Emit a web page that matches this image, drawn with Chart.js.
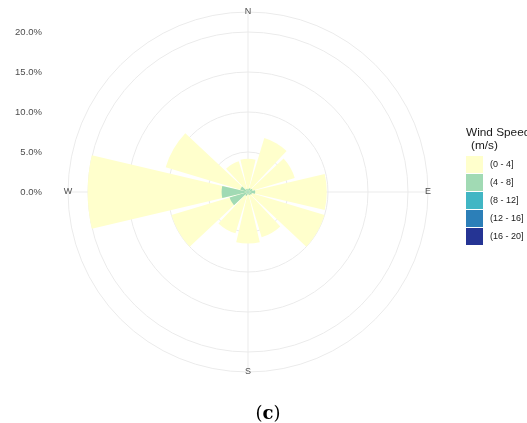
<!DOCTYPE html>
<html>
<head>
<meta charset="utf-8">
<script src="https://cdn.jsdelivr.net/npm/chart.js@4.4.1/dist/chart.umd.min.js"></script>
<style>
html,body{margin:0;padding:0;background:#fff;width:527px;height:423px;overflow:hidden;}
#wrap{position:relative;width:527px;height:423px;overflow:hidden;}
#c{position:absolute;left:0;top:0;}
.lt{position:absolute;font-family:"Liberation Sans",Arial,sans-serif;font-size:11.8px;line-height:13px;color:#1a1a1a;white-space:nowrap;}
.key{position:absolute;width:17px;height:17px;}
.kl{position:absolute;font-family:"Liberation Sans",Arial,sans-serif;font-size:9px;line-height:17px;color:#1a1a1a;white-space:nowrap;}
#caption{position:absolute;left:268px;top:402px;transform:translateX(-50%);font-family:"DejaVu Serif",serif;font-size:18px;line-height:22px;color:#000;white-space:nowrap;}
</style>
</head>
<body>
<div id="wrap">
<canvas id="c" width="527" height="423"></canvas>
<div id="legend"></div>
<div id="caption">(<b>c</b>)</div>
</div>
<script>
// Direction sectors (degrees clockwise from North)
const directions = [0, 30, 60, 90, 120, 150, 180, 210, 240, 270, 300, 330];
// Frequency (%) per wind-speed bin and direction
const speed0to4   = [3.75, 6.55, 5.5, 8.95, 9.5, 5.5, 6.15, 4.9, 7.6, 16.75, 9.75, 3.6];
const speed4to8   = [0.4, 0.5, 0.6, 0.8, 0.5, 0.4, 0.3, 0.5, 2.4, 3.2, 1.0, 0.4];
const speed8to12  = [0, 0, 0, 0.1, 0, 0, 0, 0, 0, 0.1, 0, 0];
const speed12to16 = [0, 0, 0, 0, 0, 0, 0, 0, 0, 0, 0, 0];
const speed16to20 = [0, 0, 0, 0, 0, 0, 0, 0, 0, 0, 0, 0];
const speedBins = ['(0 - 4]', '(4 - 8]', '(8 - 12]', '(12 - 16]', '(16 - 20]'];
const binColors = ['#FFFFCC', '#A1DAB4', '#41B6C4', '#2C7FB8', '#253494'];
const tickValues = [0, 5, 10, 15, 20];
const ringValues = [0, 5, 10, 15, 20, 22.5];
const rMax = 22.5;
const cardinalLabels = ['N', 'E', 'S', 'W'];
const cardinalAngles = [0, 90, 180, 270];
const legendTitle = ['Wind Speed', '(m/s)'];

const bins = [speed0to4, speed4to8, speed8to12, speed12to16, speed16to20];
const sectorAngle = 360 / directions.length;
const petalAngle = sectorAngle * 0.88;
const gapAngle = sectorAngle - petalAngle;

// cumulative stacks: outer = all bins, inner = higher speeds
const datasets = [];
for (let k = bins.length - 1; k >= 0; k--) {
  const cum = directions.map((d, i) => {
    let s = 0;
    for (let j = k; j < bins.length; j++) s += bins[j][i];
    return s;
  });
  datasets.push({
    label: speedBins[k],
    data: cum.flatMap(v => [v, 0]),
    backgroundColor: binColors[k],
    borderWidth: 0,
    angle: (ctx) => (ctx.dataIndex % 2 === 0 ? petalAngle : gapAngle)
  });
}
const labels = directions.flatMap(d => [String(d), '']);

const decor = {
  id: 'decor',
  beforeDatasetsDraw(chart) {
    const s = chart.scales.r;
    const ctx = chart.ctx;
    ctx.save();
    ctx.strokeStyle = '#EBEBEB';
    ctx.lineWidth = 1;
    cardinalAngles.forEach(a => {
      const rad = a * Math.PI / 180;
      ctx.beginPath();
      ctx.moveTo(s.xCenter, s.yCenter);
      ctx.lineTo(s.xCenter + Math.sin(rad) * s.drawingArea, s.yCenter - Math.cos(rad) * s.drawingArea);
      ctx.stroke();
    });
    ctx.restore();
  },
  afterDraw(chart) {
    const s = chart.scales.r;
    const ctx = chart.ctx;
    ctx.save();
    ctx.fillStyle = '#4D4D4D';
    ctx.font = '9px "Liberation Sans", Arial, sans-serif';
    ctx.textAlign = 'center';
    ctx.textBaseline = 'middle';
    cardinalLabels.forEach((t, i) => {
      const rad = cardinalAngles[i] * Math.PI / 180;
      const R = s.getDistanceFromCenterForValue(rMax);
      ctx.fillText(t, s.xCenter + Math.sin(rad) * R, s.yCenter - Math.cos(rad) * R);
    });
    ctx.font = '9.5px "Liberation Sans", Arial, sans-serif';
    ctx.textAlign = 'right';
    tickValues.forEach(v => {
      ctx.fillText(v.toFixed(1) + '%', 42, s.yCenter - s.getDistanceFromCenterForValue(v));
    });
    ctx.restore();
  }
};

new Chart(document.getElementById('c'), {
  type: 'polarArea',
  data: { labels, datasets },
  options: {
    responsive: false,
    animation: false,
    events: [],
    layout: { padding: { left: 68, top: 12, right: 99, bottom: 51 } },
    plugins: { legend: { display: false }, tooltip: { enabled: false } },
    scales: {
      r: {
        min: 0,
        max: rMax,
        startAngle: -petalAngle / 2,
        ticks: { display: false },
        grid: { color: '#EBEBEB', lineWidth: 1, circular: true },
        angleLines: { display: false },
        pointLabels: { display: false },
        afterBuildTicks: (scale) => { scale.ticks = ringValues.map(v => ({ value: v })); }
      }
    }
  },
  plugins: [decor]
});

// legend
const lg = document.getElementById('legend');
let html = '';
html += '<div class="lt" style="left:466px;top:126px">' + legendTitle[0] + '</div>';
html += '<div class="lt" style="left:471px;top:139px">' + legendTitle[1] + '</div>';
speedBins.forEach((b, i) => {
  const top = 156 + i * 18;
  html += '<div class="key" style="left:466px;top:' + top + 'px;background:' + binColors[i] + '"></div>';
  html += '<div class="kl" style="left:490px;top:' + top + 'px">' + b + '</div>';
});
lg.innerHTML = html;
</script>
</body>
</html>
